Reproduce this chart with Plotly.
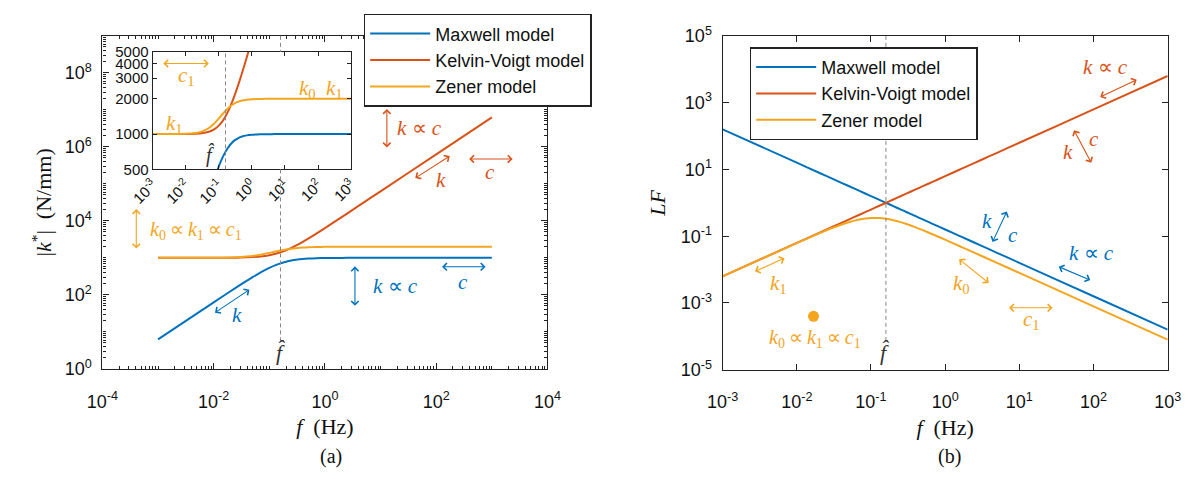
import plotly.graph_objects as go

# ---------------- data ----------------
FREQ_HZ = [0.001, 0.01, 0.02, 0.03, 0.05, 0.07, 0.1, 0.13, 0.16, 0.2, 0.25, 0.3,
           0.4, 0.5, 0.7, 1, 1.5, 2, 3, 5, 10, 100, 1000]

KSTAR_MAXWELL = [6.28, 62.7, 124.7, 185.2, 299.7, 402.6, 532.0, 632.6, 709.0, 782.5,
                 843.6, 883.4, 929.2, 952.9, 975.1, 987.6, 994.4, 996.9, 998.6, 999.5,
                 999.9, 1000, 1000]
KSTAR_KELVIN = [1000, 1002, 1008, 1018, 1048, 1092, 1181, 1291, 1418, 1606, 1862, 2134,
                2705, 3297, 4510, 6362, 9478, 12606, 18876, 31432, 62840, 628320, 6283190]
KSTAR_ZENER = [1000, 1005.9, 1023.1, 1050.2, 1126.7, 1218.0, 1359.8, 1483.4, 1583.7,
               1684.3, 1770.5, 1827.9, 1894.7, 1929.8, 1962.8, 1981.4, 1991.6, 1995.3,
               1997.9, 1999.2, 1999.8, 2000, 2000]

LF_MAXWELL = [159.15, 15.915, 7.958, 5.305, 3.183, 2.274, 1.5915, 1.2243, 0.9947, 0.7958,
              0.6366, 0.5305, 0.3979, 0.3183, 0.2274, 0.15915, 0.1061, 0.07958, 0.05305,
              0.03183, 0.015915, 0.0015915, 0.00015915]
LF_KELVIN = [0.006283, 0.06283, 0.12566, 0.1885, 0.31416, 0.43982, 0.62832, 0.81681,
             1.00531, 1.25664, 1.5708, 1.88496, 2.51327, 3.14159, 4.39823, 6.28319,
             9.42478, 12.5664, 18.8496, 31.4159, 62.832, 628.32, 6283.2]
LF_ZENER = [0.006283, 0.06233, 0.12182, 0.17599, 0.26237, 0.31713, 0.3511, 0.34991,
            0.33275, 0.3022, 0.26468, 0.23254, 0.18435, 0.15148, 0.11082, 0.078581,
            0.052754, 0.039664, 0.026488, 0.015908, 0.007956, 0.00079577, 0.000079577]

F_HAT = 0.159
DOT_F = [0.0168]
DOT_LF = [0.0004]

MODEL_NAMES = ["Maxwell model", "Kelvin-Voigt model", "Zener model"]

X_TICKS_A = [1e-4, 1e-2, 1e0, 1e2, 1e4]
X_TEXT_A = ["10<sup>-4</sup>", "10<sup>-2</sup>", "10<sup>0</sup>", "10<sup>2</sup>",
            "10<sup>4</sup>"]
Y_TICKS_A = [1e0, 1e2, 1e4, 1e6, 1e8]
Y_TEXT_A = ["10<sup>0</sup>", "10<sup>2</sup>", "10<sup>4</sup>", "10<sup>6</sup>",
            "10<sup>8</sup>"]
X_TICKS_B = [1e-3, 1e-2, 1e-1, 1e0, 1e1, 1e2, 1e3]
X_TEXT_B = ["10<sup>-3</sup>", "10<sup>-2</sup>", "10<sup>-1</sup>", "10<sup>0</sup>",
            "10<sup>1</sup>", "10<sup>2</sup>", "10<sup>3</sup>"]
Y_TICKS_B = [1e-5, 1e-3, 1e-1, 1e1, 1e3, 1e5]
Y_TEXT_B = ["10<sup>-5</sup>", "10<sup>-3</sup>", "10<sup>-1</sup>", "10<sup>1</sup>",
            "10<sup>3</sup>", "10<sup>5</sup>"]
Y_TICKS_INSET = [500, 1000, 2000, 3000, 4000, 5000]
Y_TEXT_INSET = ["500", "1000", "2000", "3000", "4000", "5000"]

# ---------------- styling ----------------
W, H = 1202, 479
BLUE, RED, YEL = "#0072BD", "#D95319", "#F3A51E"
COLORS = [BLUE, RED, YEL]
SANS = "Liberation Sans, Arial, sans-serif"
SERIF = "Liberation Serif, Times New Roman, serif"
INK = "#111111"


def px(x):
    return x / W


def py(y):
    return 1 - y / H


fig = go.Figure()

main_k = [KSTAR_MAXWELL, KSTAR_KELVIN, KSTAR_ZENER]
main_lf = [LF_MAXWELL, LF_KELVIN, LF_ZENER]
line_style = dict(width=2, shape="spline", smoothing=0.6)
for name, col, ys in zip(MODEL_NAMES, COLORS, main_k):
    fig.add_trace(go.Scatter(x=FREQ_HZ, y=ys, mode="lines", name=name,
                             line=dict(line_style, color=col),
                             xaxis="x", yaxis="y", legend="legend"))
for name, col, ys in zip(MODEL_NAMES, COLORS, main_k):
    fig.add_trace(go.Scatter(x=FREQ_HZ, y=ys, mode="lines", name=name, showlegend=False,
                             line=dict(line_style, color=col),
                             xaxis="x3", yaxis="y3"))
for name, col, ys in zip(MODEL_NAMES, COLORS, main_lf):
    fig.add_trace(go.Scatter(x=FREQ_HZ, y=ys, mode="lines", name=name,
                             line=dict(line_style, color=col),
                             xaxis="x2", yaxis="y2", legend="legend2"))
fig.add_trace(go.Scatter(x=DOT_F, y=DOT_LF, mode="markers", showlegend=False,
                         marker=dict(color=YEL, size=11), xaxis="x2", yaxis="y2"))

# minor ticks for panel (a): every decade plus 2..9 within decades
minor_vals = [m * 10 ** e for e in range(-5, 10) for m in range(1, 10)]
minor_a = dict(ticks="inside", ticklen=3, tickcolor="#222", tickmode="array",
               tickvals=minor_vals)

common = dict(type="log", showline=True, linecolor="#222", linewidth=1.2, mirror="ticks",
              ticks="inside", ticklen=6, tickcolor="#222", showgrid=False, zeroline=False,
              tickmode="array", tickfont=dict(family=SANS, size=18, color=INK))
title_font = dict(family=SERIF, size=22, color=INK)

fig.update_layout(
    width=W, height=H, margin=dict(l=0, r=0, t=0, b=0),
    paper_bgcolor="white", plot_bgcolor="white", showlegend=True,
    xaxis=dict(common, domain=[px(80), px(540)], range=[-4, 4], anchor="y",
               tickvals=X_TICKS_A, ticktext=X_TEXT_A, minor=minor_a, ticklabelstandoff=16,
               title=dict(text="<i>f</i>  (Hz)", font=title_font, standoff=8)),
    yaxis=dict(common, domain=[py(374), py(25)], range=[0, 9], anchor="x",
               tickvals=Y_TICKS_A, ticktext=Y_TEXT_A, minor=minor_a, ticklabelstandoff=6,
               title=dict(text="|<i>k</i><sup>*</sup>|  (N/mm)", font=title_font, standoff=6)),
    xaxis2=dict(common, domain=[px(721), px(1181)], range=[-3, 3], anchor="y2",
                tickvals=X_TICKS_B, ticktext=X_TEXT_B, ticklabelstandoff=16,
                title=dict(text="<i>f</i>  (Hz)", font=title_font, standoff=8)),
    yaxis2=dict(common, domain=[py(375), py(25)], range=[-5, 5], anchor="x2",
                tickvals=Y_TICKS_B, ticktext=Y_TEXT_B, ticklabelstandoff=6,
                title=dict(text="<i>LF</i>", font=title_font, standoff=8)),
    xaxis3=dict(common, domain=[px(132), px(337)], range=[-3, 3], anchor="y3",
                tickvals=X_TICKS_B, ticktext=X_TEXT_B, tickangle=-45, ticklen=4,
                tickfont=dict(family=SANS, size=15, color=INK)),
    yaxis3=dict(common, domain=[py(165), py(42)], range=[2.69897, 3.69897], anchor="x3",
                tickvals=Y_TICKS_INSET, ticktext=Y_TEXT_INSET, ticklen=4,
                tickfont=dict(family=SANS, size=15, color=INK)),
    legend=dict(x=px(350), y=py(2), xanchor="left", yanchor="top", bgcolor="white",
                bordercolor="#222", borderwidth=1.5, itemwidth=60,
                font=dict(family=SANS, size=18, color=INK), tracegroupgap=0),
    legend2=dict(x=px(749), y=py(37), xanchor="left", yanchor="top", bgcolor="white",
                 bordercolor="#222", borderwidth=1.5, itemwidth=60,
                 font=dict(family=SANS, size=18, color=INK), tracegroupgap=0),
)

# dashed f-hat lines
dash = dict(color="#888", width=1, dash="4px,3px")
fig.add_shape(type="line", xref="x", yref="paper", x0=F_HAT, x1=F_HAT, y0=py(25), y1=py(42), line=dash)
fig.add_shape(type="line", xref="x", yref="paper", x0=F_HAT, x1=F_HAT, y0=py(165), y1=py(346), line=dash)
fig.add_shape(type="line", xref="x3", yref="paper", x0=F_HAT, x1=F_HAT, y0=py(165), y1=py(42), line=dash)
fig.add_shape(type="line", xref="x2", yref="paper", x0=F_HAT, x1=F_HAT, y0=py(25), y1=py(345), line=dash)


def label(x, y, text, color, size=21, family=SERIF):
    fig.add_annotation(x=px(x), y=py(y), xref="paper", yref="paper", text=text,
                       showarrow=False, font=dict(family=family, size=size, color=color),
                       xanchor="center", yanchor="middle")


def darrow(x1, y1, x2, y2, color):
    fig.add_annotation(x=px(x2), y=py(y2), xref="paper", yref="paper", text="",
                       showarrow=True, ax=x1 - x2, ay=y1 - y2, axref="pixel", ayref="pixel",
                       arrowside="end+start", arrowhead=4, startarrowhead=4,
                       arrowsize=1.3, startarrowsize=1.3, arrowwidth=1.1,
                       arrowcolor=color, standoff=0, startstandoff=0)


K = "<i>k</i>"
C = "<i>c</i>"
PROP = " \u221d "
PROP_T = "\u2009\u221d\u2009"
K0 = "<i>k</i><sub>0</sub>"
K1 = "<i>k</i><sub>1</sub>"
C1 = "<i>c</i><sub>1</sub>"
FH = "<i>f\u0302</i>"
ZENER_RULE = K0 + PROP_T + K1 + PROP_T + C1

# panel (a)
darrow(115, 207, 115, 248, YEL)
label(177, 229, ZENER_RULE, YEL, size=20)
darrow(341, 267, 341, 308, BLUE)
label(383, 287, K + PROP + C, BLUE)
darrow(431, 267, 476, 267, BLUE)
label(453, 283, C, BLUE)
darrow(196, 315, 232, 291, BLUE)
label(219, 318, K, BLUE)
darrow(374, 102, 374, 142, RED)
label(408, 122, K + PROP + C, RED)
darrow(459, 154, 504, 154, RED)
label(481, 168, C, RED)
darrow(403, 174, 439, 151, RED)
label(430, 176, K, RED)
label(265, 357, FH, "#333", size=22)
# inset
darrow(143, 54, 190, 54, YEL)
label(167, 67, C1, YEL)
label(155, 117, K1, YEL)
label(292, 81, K0, YEL)
label(320, 81, K1, YEL)
label(192, 150, FH, "#333", size=20)
# panel (b)
darrow(1111, 89, 1149, 71, RED)
label(1117, 58, K + PROP + C, RED)
darrow(1084, 124, 1102, 158, RED)
label(1078, 147, K, RED)
label(1105, 133, C, RED)
darrow(1015, 209, 1000, 241, BLUE)
label(994, 219, K, BLUE)
label(1021, 234, C, BLUE)
darrow(1068, 267, 1101, 281, BLUE)
label(1102, 253, K + PROP + C, BLUE)
darrow(754, 272, 785, 258, YEL)
label(779, 285, K1, YEL)
darrow(965, 259, 996, 284, YEL)
label(968, 285, K0, YEL)
darrow(1017, 310, 1062, 310, YEL)
label(1040, 323, C1, YEL)
label(816, 342, ZENER_RULE, YEL, size=20)
label(889, 357, FH, "#333", size=22)

# captions
label(316, 466, "(a)", INK, size=20)
label(955, 466, "(b)", INK, size=20)

fig.write_html("out.html")
